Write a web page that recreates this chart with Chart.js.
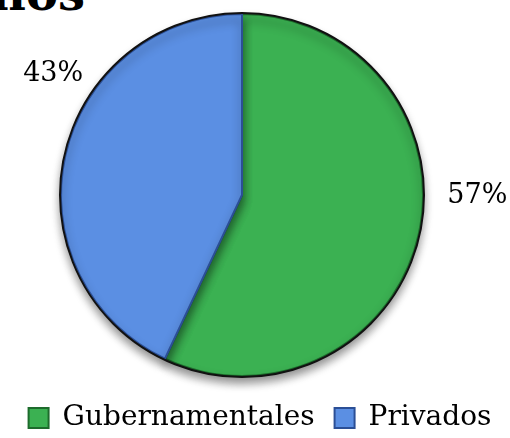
<!DOCTYPE html>
<html>
<head>
<meta charset="utf-8">
<script src="https://cdn.jsdelivr.net/npm/chart.js@4"></script>
<style>
  html, body { margin: 0; padding: 0; background: #fff; }
  #wrap { position: relative; width: 510px; height: 438px; overflow: hidden; }
  #title {
    position: absolute; right: 425px; top: -31px;
    font: bold 48px "DejaVu Serif", serif; line-height: 48px;
    white-space: nowrap; color: #000;
  }
  canvas { position: absolute; left: 0; top: 0; }
</style>
</head>
<body>
<div id="wrap">
  <div id="title">Dueños</div>
  <canvas id="pie" width="510" height="438"></canvas>
</div>
<script>
// chart data
const categories = ['Gubernamentales', 'Privados'];
const shares = [57, 43];
const fillColors = ['#3bb152', '#5b8fe3'];
const edgeColors = ['#1d6b2c', '#2b4f96'];

// where each % label sits: fraction along its slice, and distance as a multiple of the radius
const labelSpots = [
  { along: 0.44, dist: 1.30 },
  { along: 0.63, dist: 1.24 }
];

// pie sits left of centre, legend slightly right of centre in the original
const pieTrimRight = 26;
const legendShiftX = 5;
const legendShiftY = 7;

const pctLabels = {
  id: 'pctLabels',
  afterLayout(chart) {
    chart.chartArea.right -= pieTrimRight;
    chart.chartArea.width -= pieTrimRight;
    const lg = chart.legend;
    if (lg) {
      lg.left += legendShiftX; lg.right += legendShiftX;
      lg.top += legendShiftY; lg.bottom += legendShiftY;
    }
  },
  beforeDatasetsDraw(chart) {
    const ctx = chart.ctx;
    ctx.save();
    ctx.shadowColor = 'rgba(0,0,0,0.45)';
    ctx.shadowBlur = 10;
    ctx.shadowOffsetY = 6;
  },
  afterDatasetsDraw(chart) {
    const ctx = chart.ctx;
    ctx.restore();
    const arcs = chart.getDatasetMeta(0).data;
    if (!arcs.length) return;
    const cx = arcs[0].x, cy = arcs[0].y, R = arcs[0].outerRadius;

    // outer dark rim
    ctx.save();
    ctx.beginPath();
    ctx.arc(cx, cy, R + 1, 0, Math.PI * 2);
    ctx.lineWidth = 2;
    ctx.strokeStyle = '#111';
    ctx.stroke();
    ctx.restore();

    ctx.save();
    ctx.font = '27px "DejaVu Serif", serif';
    ctx.fillStyle = '#000';
    ctx.textAlign = 'center';
    ctx.textBaseline = 'middle';
    arcs.forEach((arc, i) => {
      const spot = labelSpots[i];
      const a = arc.startAngle + (arc.endAngle - arc.startAngle) * spot.along;
      const x = cx + Math.cos(a) * R * spot.dist;
      const y = cy + Math.sin(a) * R * spot.dist;
      ctx.fillText(shares[i] + '%', x, y);
    });
    ctx.restore();
  }
};

new Chart(document.getElementById('pie'), {
  type: 'pie',
  data: {
    labels: categories,
    datasets: [{
      data: shares,
      backgroundColor: fillColors,
      borderColor: edgeColors,
      borderWidth: 2
    }]
  },
  options: {
    responsive: false,
    animation: false,
    layout: { padding: { top: 13, bottom: 3, left: 0, right: 0 } },
    plugins: {
      tooltip: { enabled: false },
      legend: {
        position: 'bottom',
        labels: {
          color: '#000',
          font: { family: '"DejaVu Serif", serif', size: 28 },
          boxWidth: 20,
          boxHeight: 20,
          padding: 20
        }
      }
    }
  },
  plugins: [pctLabels]
});
</script>
</body>
</html>
